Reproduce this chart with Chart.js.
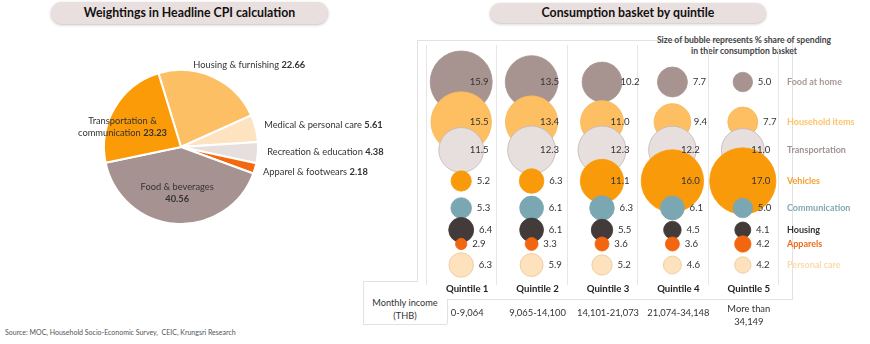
<!DOCTYPE html>
<html>
<head>
<meta charset="utf-8">
<script src="https://cdn.jsdelivr.net/npm/chart.js@4.4.1/dist/chart.umd.min.js"></script>
<style>
    body { margin: 0; width: 870px; height: 344px; background: #fff; position: relative; overflow: hidden;
           font-family: Lato, "Open Sans", sans-serif; color: #333; }
    .pill { position: absolute; background: #e9dfde; border-radius: 12px; box-shadow: 0 1px 3px rgba(0,0,0,0.25);
            font-weight: bold; font-size: 12.3px; text-align: center; color: #111; }
    .line { position: absolute; background: #e2e2e2; }
    .txt { position: absolute; text-align: center; white-space: pre; }
    canvas { position: absolute; }
</style>
</head>
<body>
<div class="pill" style="left:51px;top:2px;width:277px;height:22px;line-height:22px">Weightings in Headline CPI calculation</div>
<div class="pill" style="left:490px;top:3px;width:276px;height:20px;line-height:20px">Consumption basket by quintile</div>

<!-- table / box outlines -->
<div class="line" style="left:417px;top:40px;width:375px;height:1px"></div>
<div class="line" style="left:417px;top:40px;width:1px;height:241px"></div>
<div class="line" style="left:792px;top:40px;width:1px;height:260px"></div>
<div class="line" style="left:447px;top:299px;width:345px;height:1px"></div>
<div class="line" style="left:363px;top:281px;width:55px;height:1px"></div>
<div class="line" style="left:363px;top:281px;width:1px;height:43px"></div>
<div class="line" style="left:363px;top:324px;width:84px;height:1px"></div>
<div class="line" style="left:447px;top:299px;width:1px;height:25px"></div>

<div class="txt" style="left:363px;top:296px;width:84px;font-size:9.2px;line-height:13px;color:#333">Monthly income
(THB)</div>
<div class="txt" style="left:653px;top:35px;width:182px;font-size:8.6px;font-weight:bold;color:#444;line-height:11px">Size of bubble represents % share of spending
in their consumption basket</div>
<div class="txt" style="left:5px;top:328px;font-size:7px;color:#555;text-align:left">Source: MOC, Household Socio-Economic Survey,  CEIC, Krungsri Research</div>

<canvas id="pieCanvas" width="400" height="234" style="left:0;top:30px"></canvas>
<canvas id="bubbleCanvas" width="453" height="250" style="left:417px;top:40px"></canvas>
<div id="axisText"></div>

<script>
// Weightings in headline CPI (%)
const cpiCategories = ['Housing & furnishing', 'Medical & personal care', 'Recreation & education',
                       'Apparel & footwears', 'Food & beverages', 'Transportation & communication'];
const cpiWeights = [22.66, 5.61, 4.38, 2.18, 40.56, 23.23];
const cpiColors = ['#fdbf63', '#fde3c0', '#e7dfde', '#f4690f', '#a69391', '#fb9b08'];

// Consumption basket by quintile (% share of spending)
const quintiles = ['Quintile 1', 'Quintile 2', 'Quintile 3', 'Quintile 4', 'Quintile 5'];
const incomeRanges = ['0-9,064', '9,065-14,100', '14,101-21,073', '21,074-34,148', 'More than\n34,149'];
const basketItems = ['Food at home', 'Household items', 'Transportation', 'Vehicles',
                     'Communication', 'Housing', 'Apparels', 'Personal care'];
const rowLevels = [21.8, 17.8, 15.0, 11.9, 9.2, 7.0, 5.6, 3.5];
const foodAtHome     = [15.9, 13.5, 10.2, 7.7, 5.0];
const householdItems = [15.5, 13.4, 11.0, 9.4, 7.7];
const transportation = [11.5, 12.3, 12.3, 12.2, 11.0];
const vehicles       = [5.2, 6.3, 11.1, 16.0, 17.0];
const communication  = [5.3, 6.1, 6.3, 6.1, 5.0];
const housing        = [6.4, 6.1, 5.5, 4.5, 4.1];
const apparels       = [2.9, 3.3, 3.6, 3.6, 4.2];
const personalCare   = [6.3, 5.9, 5.2, 4.6, 4.2];

const basketValues = [foodAtHome, householdItems, transportation, vehicles,
                      communication, housing, apparels, personalCare];
const bubbleFill   = ['#a79491', '#fdbf62', '#e7dede', '#f99a0a', '#7aa7b1', '#433a3a', '#f2660f', '#fde2bd'];
const bubbleBorder = ['#a79491', '#f5b85a', '#c4b6b6', '#f99a0a', '#7aa7b1', '#433a3a', '#f2660f', '#e9c896'];
const itemColors   = ['#a89895', '#fcc46a', '#a39393', '#f5a030', '#80a9b3', '#333333', '#ee6a1b', '#fbd9a8'];

const FONT = 'Lato, "Open Sans", sans-serif';
const BUBBLE_SCALE = 1.95; // px of radius per % point

// draw text made of normal/bold runs
function drawRuns(ctx, runs, x, y, align, size) {
    const fonts = runs.map(r => (r.bold ? 'bold ' : '') + size + 'px ' + FONT);
    let total = 0;
    runs.forEach((r, i) => { ctx.font = fonts[i]; total += ctx.measureText(r.text).width; });
    let cx = align === 'center' ? x - total / 2 : x;
    ctx.textAlign = 'left';
    ctx.textBaseline = 'middle';
    runs.forEach((r, i) => {
        ctx.font = fonts[i];
        ctx.fillText(r.text, cx, y);
        cx += ctx.measureText(r.text).width;
    });
}

// label placement in units of the pie radius
const pieLabelLayout = [
    { dx: 0.16, dy: -1.066, align: 'left', lines: 1 },
    { dx: 1.08, dy: -0.29, align: 'left', lines: 1 },
    { dx: 1.12, dy: 0.066, align: 'left', lines: 1 },
    { dx: 1.066, dy: 0.33, align: 'left', lines: 1 },
    { dx: -0.05, dy: 0.515, align: 'center', lines: 2 },
    { dx: -0.76, dy: -0.34, align: 'center', lines: 2 }
];

const pieLabels = {
    id: 'pieLabels',
    afterDraw(chart) {
        const ctx = chart.ctx;
        const arcs = chart.getDatasetMeta(0).data;
        const size = 9.3;
        ctx.save();
        ctx.fillStyle = '#333';
        arcs.forEach((arc, i) => {
            const lay = pieLabelLayout[i];
            const r = arc.outerRadius;
            const x = arc.x + lay.dx * r;
            const y = arc.y + lay.dy * r;
            const name = cpiCategories[i];
            const val = cpiWeights[i].toFixed(2);
            if (lay.lines === 1) {
                drawRuns(ctx, [{ text: name + ' ' }, { text: val, bold: true }], x, y, lay.align, size);
            } else if (i === 5) {
                drawRuns(ctx, [{ text: 'Transportation &' }], x, y, 'center', size);
                drawRuns(ctx, [{ text: 'communication ' }, { text: val, bold: true }], x, y + 12, 'center', size);
            } else {
                drawRuns(ctx, [{ text: name }], x, y, 'center', size);
                drawRuns(ctx, [{ text: val, bold: true }], x, y + 12, 'center', size);
            }
        });
        ctx.restore();
    }
};

new Chart(document.getElementById('pieCanvas'), {
    type: 'pie',
    data: {
        labels: cpiCategories,
        datasets: [{
            data: cpiWeights,
            backgroundColor: cpiColors,
            borderColor: '#ffffff',
            borderWidth: 2
        }]
    },
    options: {
        responsive: false,
        animation: false,
        events: [],
        rotation: -17,
        layout: { padding: { top: 39, bottom: 39, right: 38 } },
        plugins: { legend: { display: false }, tooltip: { enabled: false } }
    },
    plugins: [pieLabels]
});

// column separators, value labels and row names
const bubbleDecor = {
    id: 'bubbleDecor',
    beforeDatasetsDraw(chart) {
        const { ctx, chartArea, scales } = chart;
        ctx.save();
        ctx.strokeStyle = '#e6e6e6';
        ctx.lineWidth = 1;
        for (let i = 0; i <= quintiles.length; i++) {
            const x = Math.round(scales.x.getPixelForValue(i + 0.5)) + 0.5;
            ctx.beginPath();
            ctx.moveTo(x, chartArea.top + 5);
            ctx.lineTo(x, chartArea.bottom - 5);
            ctx.stroke();
        }
        ctx.restore();
    },
    afterDatasetsDraw(chart) {
        const { ctx, chartArea, scales } = chart;
        ctx.save();
        ctx.textBaseline = 'middle';
        chart.data.datasets.forEach((ds, di) => {
            const meta = chart.getDatasetMeta(di);
            meta.data.forEach((pt, j) => {
                const raw = ds.data[j];
                const off = raw.r > 20 ? 18 : Math.min(raw.r + 12, 28);
                ctx.font = '9.6px ' + FONT;
                ctx.fillStyle = '#333';
                ctx.textAlign = 'center';
                ctx.fillText(raw.v.toFixed(1), pt.x + off, pt.y);
            });
            ctx.font = 'bold 9px ' + FONT;
            ctx.fillStyle = itemColors[di];
            ctx.textAlign = 'left';
            ctx.fillText(basketItems[di], chartArea.right + 9, scales.y.getPixelForValue(rowLevels[di]));
        });
        ctx.restore();
    }
};

const bubbleChart = new Chart(document.getElementById('bubbleCanvas'), {
    type: 'bubble',
    data: {
        datasets: basketItems.map((item, i) => ({
            label: item,
            data: basketValues[i].map((v, j) => ({ x: j + 1, y: rowLevels[i], r: v * BUBBLE_SCALE, v: v })),
            backgroundColor: bubbleFill[i],
            borderColor: bubbleBorder[i],
            borderWidth: 0.8,
            clip: false,
            order: basketItems.length - i
        }))
    },
    options: {
        responsive: false,
        animation: false,
        events: [],
        layout: { autoPadding: false, padding: { left: 9, right: 92, top: 0, bottom: 0 } },
        scales: {
            x: { type: 'linear', min: 0.5, max: 5.5, display: false },
            y: { type: 'linear', min: 1, max: 26, display: false }
        },
        plugins: { legend: { display: false }, tooltip: { enabled: false } }
    },
    plugins: [bubbleDecor]
});

// quintile names and income ranges under the bubbles
const axisText = document.getElementById('axisText');
quintiles.forEach((q, i) => {
    const x = 417 + bubbleChart.scales.x.getPixelForValue(i + 1) + 6;
    const name = document.createElement('div');
    name.className = 'txt';
    name.style.cssText = `left:${x - 45}px;top:283px;width:90px;font-size:9.6px;font-weight:bold;color:#222`;
    name.textContent = q;
    axisText.appendChild(name);
    const inc = document.createElement('div');
    inc.className = 'txt';
    const two = incomeRanges[i].includes('\n');
    inc.style.cssText = `left:${x - 45}px;top:${two ? 302 : 306}px;width:90px;font-size:9.4px;line-height:13px;color:#333`;
    inc.textContent = incomeRanges[i];
    axisText.appendChild(inc);
});
</script>
</body>
</html>
